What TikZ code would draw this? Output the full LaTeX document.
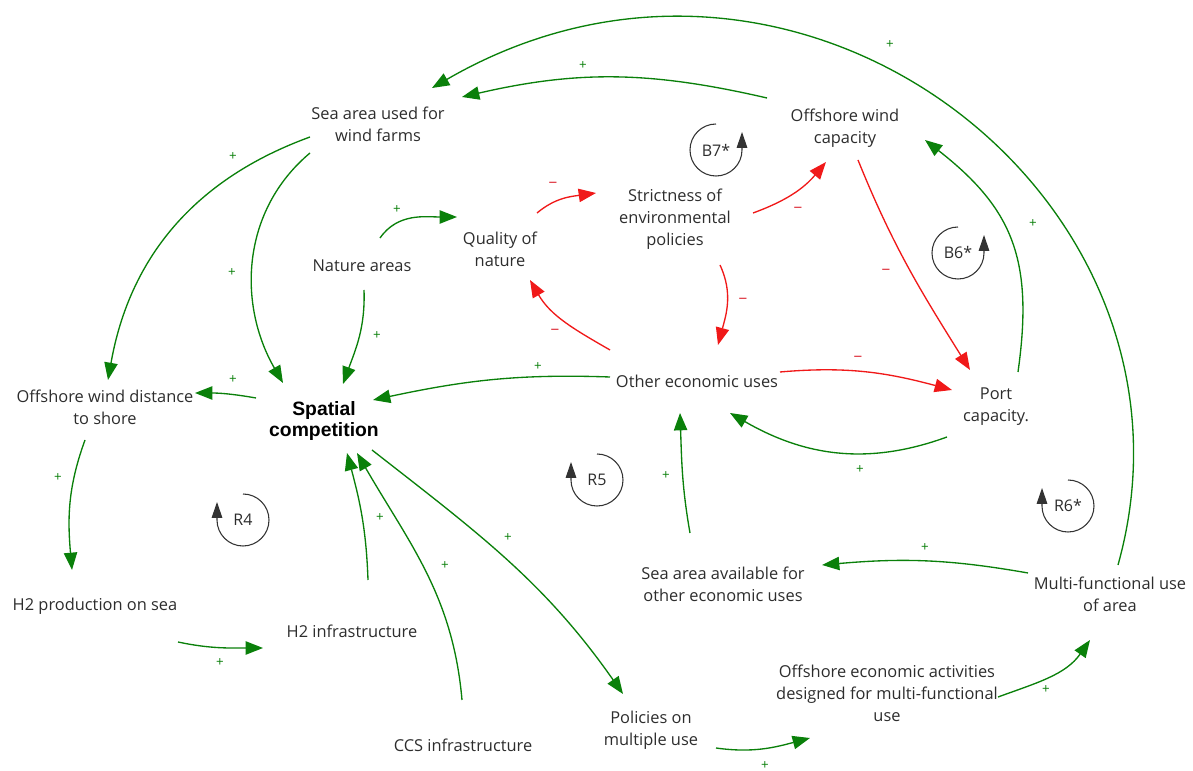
\documentclass[tikz,border=0pt]{standalone}
\usepackage{fontspec}
\setmainfont{Open Sans}
\newfontfamily\keyfont{Liberation Sans}
\usetikzlibrary{arrows.meta,calc}

\definecolor{posgreen}{RGB}{10,128,10}
\definecolor{negred}{RGB}{240,25,25}
\definecolor{minuscol}{RGB}{225,70,80}
\definecolor{txtgray}{RGB}{45,45,45}

\tikzset{
  var/.style={align=center, text=txtgray, inner sep=4pt, font=\fontsize{12.3}{16.5}\selectfont},
  key/.style={align=center, inner sep=4pt, font=\keyfont\bfseries\fontsize{14.5}{16}\selectfont},
  plink/.style={draw=posgreen, line width=1pt, -{Triangle[length=13pt,width=10pt]}},
  nlink/.style={draw=negred, line width=1pt, -{Triangle[length=13pt,width=10pt]}},
  plus/.style={text=posgreen, inner sep=0pt, font=\fontsize{10}{10}\selectfont},
  minus/.style={text=minuscol, inner sep=0pt, font=\fontsize{13}{13}\selectfont},
  looplbl/.style={text=txtgray, inner sep=0pt, font=\fontsize{12}{14}\selectfont},
  loopsym/.style={draw=black!80, line width=0.8pt, -{Triangle[length=12pt,width=8pt]}}
}

\begin{document}
\begin{tikzpicture}[x=0.75pt, y=0.75pt]
\useasboundingbox (0,0) rectangle (1193,771);

% variables
\node[var] (seaused) at (378,647) {Sea area used for\\wind farms};
\node[var] (owcap) at (845,643) {Offshore wind\\capacity};
\node[var] (strict) at (675,552) {Strictness of\\environmental\\policies};
\node[var] (quality) at (500,522) {Quality of\\nature};
\node[var] (nature) at (362,505) {Nature areas};
\node[var] (distance) at (105,364) {Offshore wind distance\\to shore};
\node[key] (spatial) at (324,350) {Spatial\\competition};
\node[var] (other) at (697,390) {Other economic uses};
\node[var] (port) at (996,364) {Port\\capacity.};
\node[var] (h2prod) at (95,165) {H2 production on sea};
\node[var] (h2infra) at (352,140) {H2 infrastructure};
\node[var] (ccs) at (463,26) {CCS infrastructure};
\node[var] (policies) at (651,41) {Policies on\\multiple use};
\node[var] (offact) at (887,78) {Offshore economic activities\\designed for multi-functional\\use};
\node[var] (seaavail) at (723,187) {Sea area available for\\other economic uses};
\node[var] (multi) at (1110,177) {Multi-functional use\\of area};

% positive links
\draw[plink] ($(owcap)+(-78,30)$) to[out=167, in=13] ($(seaused)+(84,27)$);
\draw[plink] ($(multi)+(8,29)$) .. controls (1220,571) and (800,896) .. ($(seaused)+(54,36)$);
\draw[plink] ($(seaused)+(-68,-13)$) to[out=200, in=80] ($(distance)+(3,27)$);
\draw[plink] ($(seaused)+(-68,-29)$) to[out=220, in=120] ($(spatial)+(-41,38)$);
\draw[plink] ($(nature)+(18,28)$) to[out=55, in=180] ($(quality)+(-43,32)$);
\draw[plink] ($(nature)+(2,-24)$) to[out=-88, in=70] ($(spatial)+(19,37)$);
\draw[plink] ($(spatial)+(-68,23)$) to[out=170, in=0] ($(distance)+(90,14)$);
\draw[plink] ($(other)+(-87,4)$) to[out=178, in=12] ($(spatial)+(49,21)$);
\draw[plink] ($(port)+(-49,-30)$) to[out=200, in=-30] ($(other)+(33,-32)$);
\draw[plink] ($(port)+(22,35)$) to[out=82, in=-38, looseness=1.15] ($(owcap)+(80,-12)$);
\draw[plink] ($(distance)+(-20,-33)$) to[out=250, in=95] ($(h2prod)+(-23,36)$);
\draw[plink] ($(h2prod)+(83,-36)$) to[out=-12, in=180] ($(h2infra)+(-89,-17)$);
\draw[plink] ($(h2infra)+(16,51)$) to[out=92, in=-75] ($(spatial)+(23,-32)$);
\draw[plink] ($(ccs)+(-1,45)$) to[out=95, in=-60] ($(spatial)+(33,-32)$);
\draw[plink] ($(spatial)+(48,-29)$) to[out=-38, in=125] ($(policies)+(-28,36)$);
\draw[plink] ($(policies)+(65,-18)$) to[out=-8, in=195] ($(offact)+(-77,-45)$);
\draw[plink] ($(offact)+(111,-4)$) to[out=20, in=235] ($(multi)+(-20,-46)$);
\draw[plink] ($(multi)+(-82,21)$) to[out=170, in=5] ($(seaavail)+(99,19)$);
\draw[plink] ($(seaavail)+(-33,51)$) to[out=100, in=-88] ($(other)+(-17,-32)$);

% negative links
\draw[nlink] ($(quality)+(37,36)$) to[out=40, in=188] ($(strict)+(-79,26)$);
\draw[nlink] ($(strict)+(78,6)$) to[out=20, in=230] ($(owcap)+(-19,-34)$);
\draw[nlink] ($(owcap)+(13,-32)$) to[out=-68, in=122] ($(port)+(-26,37)$);
\draw[nlink] ($(strict)+(45,-46)$) to[out=-65, in=75] ($(other)+(21,36)$);
\draw[nlink] ($(other)+(-87,31)$) to[out=150, in=-60] ($(quality)+(30,-31)$);
\draw[nlink] ($(other)+(83,9)$) to[out=5, in=165] ($(port)+(-44,17)$);

% polarities
\node[plus] (p1) at (583,705) {+};
\node[plus] (p2) at (890,726) {+};
\node[plus] (p3) at (233,614) {+};
\node[plus] (p4) at (232,498) {+};
\node[plus] (p5) at (397,561) {+};
\node[plus] (p6) at (377,435) {+};
\node[plus] (p7) at (233,391) {+};
\node[plus] (p8) at (538,404) {+};
\node[plus] (p9) at (860,301) {+};
\node[plus] (p10) at (1033,547) {+};
\node[plus] (p11) at (58,293) {+};
\node[plus] (p12) at (220,108) {+};
\node[plus] (p13) at (380,253) {+};
\node[plus] (p14) at (445,205) {+};
\node[plus] (p15) at (508,233) {+};
\node[plus] (p16) at (765,5) {+};
\node[plus] (p17) at (1046,81) {+};
\node[plus] (p18) at (925,223) {+};
\node[plus] (p19) at (666,295) {+};
\node[minus] (m1) at (553,586) {--};
\node[minus] (m2) at (798,561) {--};
\node[minus] (m3) at (886,499) {--};
\node[minus] (m4) at (743,470) {--};
\node[minus] (m5) at (555,439) {--};
\node[minus] (m6) at (858,412) {--};

% loops
\node[looplbl] (b7) at (716,621) {B7*};
\node[looplbl] (b6) at (958,518) {B6*};
\node[looplbl] (r4) at (243,251) {R4};
\node[looplbl] (r5) at (597,291) {R5};
\node[looplbl] (r6) at (1068,265) {R6*};
\draw[loopsym] (b7.center) ++(0,26) arc[start angle=90, end angle=360, radius=26] -- ++(0,18);
\draw[loopsym] (b6.center) ++(0,26) arc[start angle=90, end angle=360, radius=26] -- ++(0,18);
\draw[loopsym] (r4.center) ++(0,26) arc[start angle=90, end angle=-180, radius=26] -- ++(0,18);
\draw[loopsym] (r5.center) ++(0,26) arc[start angle=90, end angle=-180, radius=26] -- ++(0,18);
\draw[loopsym] (r6.center) ++(0,26) arc[start angle=90, end angle=-180, radius=26] -- ++(0,18);
\end{tikzpicture}
\end{document}
